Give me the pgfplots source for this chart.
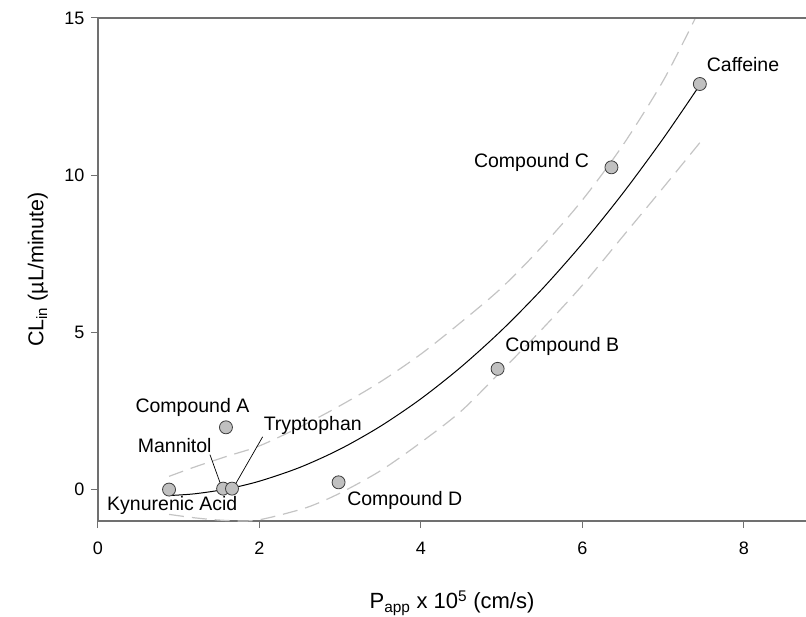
\documentclass[border=0pt]{standalone}
\usepackage{pgfplots}
\pgfplotsset{compat=1.18}
\usepackage{fontspec}
\setmainfont{Liberation Sans}
\definecolor{ptfill}{HTML}{C0C0C0}
\definecolor{ptedge}{HTML}{3C3C3C}
\definecolor{band}{HTML}{C4C4C4}
\definecolor{axgray}{HTML}{707070}
\begin{document}
\fontsize{19.5}{22}\selectfont
\begin{tikzpicture}
\begin{axis}[
  name=ax,
  scale only axis, width=708pt, height=503pt,
  xmin=0, xmax=8.77, ymin=-1, ymax=15,
  enlargelimits=false,
  axis lines=left,
  axis line style={-, axgray, line width=1.3pt},
  tick align=outside,
  major tick length=7pt,
  tick style={axgray, line width=1pt},
  xtick={0,2,4,6,8}, ytick={0,5,10,15},
  minor tick num=0,
  /pgf/number format/assume math mode=true,
  ticklabel style={font=\fontsize{18}{20}\selectfont},
  xticklabel style={yshift=-7pt},
  xlabel={P\textsubscript{app} x 10\textsuperscript{5} (cm/s)},
  ylabel={CL\textsubscript{in} (µL/minute)},
  xlabel style={at={(axis description cs:0.5,-0.163)}, anchor=center, font=\fontsize{22}{24}\selectfont},
  ylabel style={at={(axis description cs:-0.085,0.5)}, anchor=center, font=\fontsize{21.5}{24}\selectfont},
]
% upper 95% band
\addplot[band, line width=1.2pt, dash pattern=on 15pt off 8pt, smooth] coordinates {
 (0.88,0.42) (1.2,0.72) (1.6,1.06) (2.0,1.39) (2.5,1.99) (3.0,2.67) (3.5,3.43)
 (4.0,4.31) (4.5,5.33) (5.0,6.42) (5.5,7.73) (6.0,9.21) (6.5,10.95) (7.0,13.0) (7.40,15.0)};
% lower 95% band
\addplot[band, line width=1.2pt, dash pattern=on 15pt off 8pt, smooth] coordinates {
 (0.88,-0.79) (1.2,-0.90) (1.5,-0.97) (1.8,-1.0) (2.0,-0.96) (2.3,-0.78) (2.63,-0.53)
 (3.0,-0.11) (3.5,0.60) (4.0,1.50) (4.5,2.50) (5.0,3.78) (5.5,5.10) (6.0,6.50)
 (6.5,8.05) (7.0,9.60) (7.46,11.05)};
% regression
\addplot[black, line width=1pt, smooth] coordinates {
 (0.88,-0.19) (1.2,-0.134) (1.6,0.020) (2.0,0.267) (2.5,0.705) (3.0,1.288) (3.5,2.016)
 (4.0,2.888) (4.5,3.906) (5.0,5.067) (5.5,6.374) (6.0,7.825) (6.5,9.421) (7.0,11.162) (7.455,12.87)};
% leader lines
\draw[black, line width=0.7pt] (axis cs:1.387,1.11) -- (axis cs:1.52,0.16);
\draw[black, line width=0.7pt] (axis cs:2.04,1.68) -- (axis cs:1.70,0.16);
% compounds
\addplot[only marks, mark=*, mark size=6.5pt,
  mark options={fill=ptfill, draw=ptedge, line width=0.8pt}] coordinates {
 (0.88,0.0) (1.55,0.03) (1.66,0.03) (1.585,1.98) (2.98,0.23) (4.95,3.84) (6.36,10.25) (7.455,12.9)};
\node at (axis cs:1.17,2.62) {Compound A};
\node at (axis cs:2.66,2.03) {Tryptophan};
\node at (axis cs:0.95,1.40) {Mannitol};
\node at (axis cs:0.92,-0.51) {Kynurenic Acid};
\node at (axis cs:3.80,-0.35) {Compound D};
\node at (axis cs:5.75,4.56) {Compound B};
\node at (axis cs:5.37,10.42) {Compound C};
\node at (axis cs:7.99,13.52) {Caffeine};
\end{axis}
\draw[axgray, line width=1.3pt] (ax.north west) -- (ax.north east);
\pgfresetboundingbox
\path ([shift={(-98pt,-95pt)}]ax.south west) rectangle ([shift={(0pt,18pt)}]ax.north east);
\end{tikzpicture}
\end{document}
